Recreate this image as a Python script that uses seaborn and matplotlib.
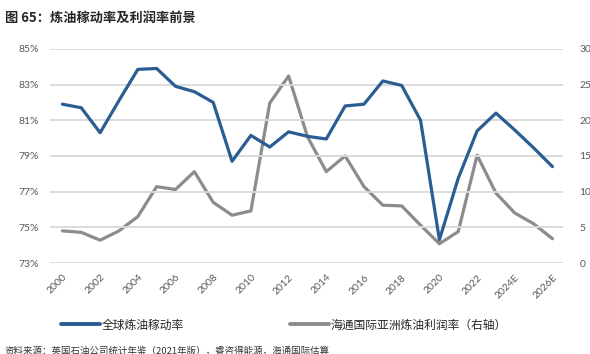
import matplotlib
matplotlib.use("Agg")
import matplotlib.pyplot as plt
import seaborn as sns
import pandas as pd
from matplotlib.lines import Line2D

# data
years = [str(y) for y in range(2000, 2024)] + ["2024E", "2025E", "2026E"]
utilization = [81.9, 81.7, 80.3, 82.1, 83.85, 83.9, 82.9, 82.6, 82.0, 78.7,
               80.15, 79.5, 80.35, 80.1, 79.95, 81.8, 81.9, 83.2, 82.95, 81.0,
               74.3, 77.75, 80.4, 81.4, 80.45, 79.45, 78.4]
margin = [4.5, 4.3, 3.2, 4.5, 6.5, 10.7, 10.3, 12.8, 8.5, 6.7,
          7.3, 22.4, 26.2, 17.7, 12.8, 15.0, 10.7, 8.1, 8.0, 5.3,
          2.7, 4.4, 15.1, 9.8, 7.0, 5.5, 3.4]
left_ticks = [73, 75, 77, 79, 81, 83, 85]
right_ticks = [0, 5, 10, 15, 20, 25, 30]

title = "图 65：炼油稼动率及利润率前景"
label_blue = "全球炼油稼动率"
label_gray = "海通国际亚洲炼油利润率（右轴）"
source = "资料来源：英国石油公司统计年鉴（2021年版），睿咨得能源，海通国际估算"

blue = "#2A5D92"
gray = "#8C8C8C"
tick_c = "#595959"

df = pd.DataFrame({"idx": range(len(years)), "year": years,
                   "util": utilization, "margin": margin})

sns.set_theme(style="white")
plt.rcParams["font.family"] = ["Lato", "Noto Sans CJK SC", "DejaVu Sans"]
cjk = ["Noto Sans CJK SC", "DejaVu Sans"]

fig = plt.figure(figsize=(5.9, 3.54), dpi=100)
ax = fig.add_axes([0.085, 0.257, 0.869, 0.605])
ax2 = ax.twinx()

sns.lineplot(data=df, x="idx", y="util", ax=ax, color=blue, linewidth=2.3)
sns.lineplot(data=df, x="idx", y="margin", ax=ax2, color=gray, linewidth=2.3)
ax.set_zorder(ax2.get_zorder() + 1)
ax.patch.set_visible(False)

ax.set_xlim(-0.65, len(years) - 0.45)
ax.set_ylim(73, 85)
ax2.set_ylim(0, 30)
ax.set_yticks(left_ticks)
ax.set_yticklabels([f"{t}%" for t in left_ticks])
ax2.set_yticks(right_ticks)
ax.set_xticks(range(0, len(years), 2))
ax.set_xticklabels(years[::2], rotation=45, ha="right", rotation_mode="anchor")

ax.grid(False)
ax2.grid(False)
for t in left_ticks:
    ax.axhline(t, color="#D9D9D9", linewidth=1.3, zorder=0)
for a in (ax, ax2):
    for s in a.spines.values():
        s.set_visible(False)
    a.set_xlabel("")
    a.set_ylabel("")
ax.tick_params(axis="y", length=0, labelsize=7.5, labelcolor=tick_c, pad=8)
ax2.tick_params(axis="y", length=0, labelsize=7.5, labelcolor=tick_c, pad=12)
ax.tick_params(axis="x", length=0, labelsize=7.5, labelcolor=tick_c, pad=7)

handles = [Line2D([], [], color=blue, linewidth=2.8),
           Line2D([], [], color=gray, linewidth=2.8)]
fig.legend(handles, [label_blue, label_gray], loc="center left",
           bbox_to_anchor=(0.095, 1 - 325 / 354), ncol=2, frameon=False,
           prop={"family": cjk, "size": 8.5}, handlelength=3.3,
           handletextpad=0.15, columnspacing=9.0, borderaxespad=0)

fig.text(0.008, 1 - 18 / 354, title, fontsize=9.5, fontweight="bold",
         family=cjk, va="center", ha="left")
fig.text(0.008, 1 - 346 / 354, source, fontsize=6.8, family=cjk,
         va="top", ha="left", color="#333333")

fig.savefig("out.png", dpi=100)
